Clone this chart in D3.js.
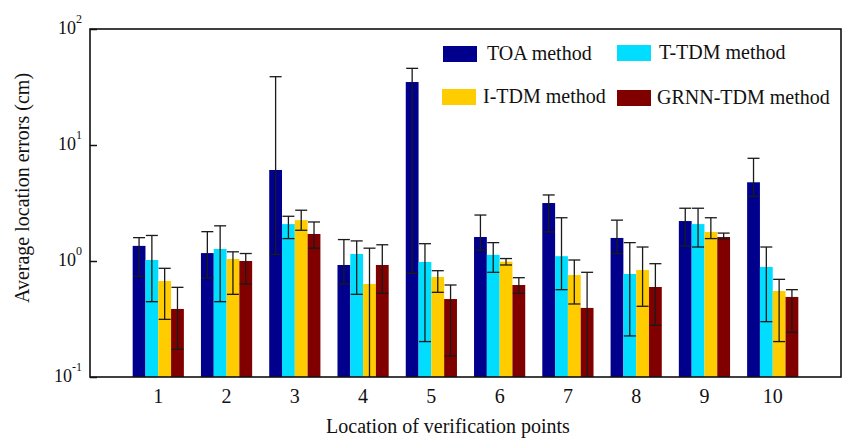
<!DOCTYPE html>
<html>
<head>
<meta charset="utf-8">
<script src="https://cdn.jsdelivr.net/npm/d3@7"></script>
<style>
  html, body { margin: 0; padding: 0; background: #fff; }
  svg { display: block; font-family: "Liberation Serif", "Times New Roman", serif; }
</style>
</head>
<body>
<svg id="chart" width="851" height="440"></svg>
<script>
// Verification point labels
const categories = ["1", "2", "3", "4", "5", "6", "7", "8", "9", "10"];
const seriesNames = ["TOA method", "T-TDM method", "I-TDM method", "GRNN-TDM method"];
const seriesColors = ["#00008c", "#00ddff", "#ffcc00", "#800000"];

// Mean location error (cm) and the lower / upper ends of each error bar
const toaMean  = [1.35, 1.17, 6.09, 0.924, 34.9, 1.61, 3.16, 1.58, 2.21, 4.77];
const toaLow   = [0.738, 0.714, 1.14, 0.634, 0.783, 1.24, 1.78, 1.16, 1.35, 3.61];
const toaHigh  = [1.59, 1.79, 38.8, 1.53, 45.8, 2.49, 3.71, 2.25, 2.85, 7.68];

const ttdmMean = [1.02, 1.27, 2.08, 1.15, 0.98, 1.13, 1.10, 0.773, 2.08, 0.888];
const ttdmLow  = [0.446, 0.446, 1.56, 0.516, 0.202, 0.799, 0.566, 0.226, 1.32, 0.300];
const ttdmHigh = [1.66, 2.01, 2.43, 1.49, 1.41, 1.44, 2.36, 1.44, 2.85, 1.32];

const itdmMean = [0.672, 1.04, 2.25, 0.634, 0.728, 0.987, 0.757, 0.836, 1.78, 0.551];
const itdmLow  = [0.314, 0.516, 1.84, 0.09, 0.537, 0.924, 0.426, 0.407, 1.56, 0.202];
const itdmHigh = [0.865, 1.20, 2.74, 1.29, 0.825, 1.05, 1.02, 1.32, 2.36, 0.695];

const grnnMean = [0.386, 1.00, 1.71, 0.924, 0.470, 0.621, 0.394, 0.597, 1.61, 0.490];
const grnnLow  = [0.173, 0.634, 1.29, 0.527, 0.152, 0.527, 0.09, 0.279, 1.55, 0.243];
const grnnHigh = [0.593, 1.16, 2.17, 1.38, 0.621, 0.718, 0.799, 0.948, 1.74, 0.566];

const yTickValues = [0.1, 1, 10, 100];
const yTickExponents = ["-1", "0", "1", "2"];

const series = [
  { mean: toaMean,  low: toaLow,  high: toaHigh },
  { mean: ttdmMean, low: ttdmLow, high: ttdmHigh },
  { mean: itdmMean, low: itdmLow, high: itdmHigh },
  { mean: grnnMean, low: grnnLow, high: grnnHigh }
];

const svg = d3.select("#chart");
const plotLeft = 90, plotRight = 841, plotTop = 29, plotBottom = 377;

const x = d3.scaleLinear().domain([0, categories.length + 1]).range([plotLeft, plotRight]);
const y = d3.scaleLog().domain([0.1, 100]).range([plotBottom, plotTop]);
const barW = 0.1875; // in category units

svg.append("defs").append("clipPath").attr("id", "plotClip")
  .append("rect").attr("x", plotLeft).attr("y", plotTop)
  .attr("width", plotRight - plotLeft).attr("height", plotBottom - plotTop);

const plot = svg.append("g").attr("clip-path", "url(#plotClip)");

series.forEach((s, si) => {
  const offset = (si - 1.5) * barW;
  const g = plot.append("g");
  g.selectAll("rect")
    .data(categories.map((c, i) => ({ i, v: s.mean[i] })))
    .join("rect")
    .attr("x", d => x(d.i + 1 + offset - barW / 2))
    .attr("width", d => x(d.i + 1 + offset + barW / 2) - x(d.i + 1 + offset - barW / 2))
    .attr("y", d => y(d.v))
    .attr("height", d => y(0.1) - y(d.v))
    .attr("fill", seriesColors[si]);
});

// Error bars drawn over all bars
series.forEach((s, si) => {
  const offset = (si - 1.5) * barW;
  const eb = plot.append("g").attr("stroke", "#1a1a1a").attr("stroke-width", 1.3);
  categories.forEach((c, i) => {
    const cx = x(i + 1 + offset);
    const yl = y(s.low[i]), yh = y(s.high[i]);
    eb.append("line").attr("x1", cx).attr("x2", cx).attr("y1", yh).attr("y2", yl);
    eb.append("line").attr("x1", cx - 6).attr("x2", cx + 6).attr("y1", yh).attr("y2", yh);
    eb.append("line").attr("x1", cx - 6).attr("x2", cx + 6).attr("y1", yl).attr("y2", yl);
  });
});

// Left axis: inward ticks only, labels drawn as powers of ten
const yAxis = d3.axisLeft(y).tickValues(yTickValues).tickSize(-7).tickFormat("");
const ya = svg.append("g").attr("transform", `translate(${plotLeft},0)`).call(yAxis);
ya.select(".domain").remove();
ya.selectAll(".tick line").attr("stroke", "#111").attr("stroke-width", 1.5);

yTickValues.forEach((v, k) => {
  const t = svg.append("text")
    .attr("x", 82).attr("y", y(v) + 5)
    .attr("text-anchor", "end")
    .attr("fill", "#111")
    .style("font-size", "18px");
  t.append("tspan").text("10");
  t.append("tspan").attr("dy", -11).style("font-size", "12px").text(yTickExponents[k]);
});

// Category labels
svg.append("g").selectAll("text")
  .data(categories)
  .join("text")
  .attr("x", (d, i) => x(i + 1))
  .attr("y", 403)
  .attr("text-anchor", "middle")
  .attr("fill", "#111")
  .style("font-size", "20px")
  .text(d => d);

// Frame
svg.append("rect")
  .attr("x", plotLeft).attr("y", plotTop)
  .attr("width", plotRight - plotLeft).attr("height", plotBottom - plotTop)
  .attr("fill", "none").attr("stroke", "#111").attr("stroke-width", 1.6);

// Axis titles
svg.append("text")
  .attr("x", 448).attr("y", 433)
  .attr("text-anchor", "middle").attr("fill", "#111")
  .style("font-size", "20px")
  .text("Location of verification points");

svg.append("text")
  .attr("transform", "translate(29,188) rotate(-90)")
  .attr("text-anchor", "middle").attr("fill", "#111")
  .style("font-size", "20px")
  .text("Average location errors (cm)");

// Legend, two rows of two entries
const legendPos = [
  { sx: 443, sy: 46, tx: 487, ty: 60 },
  { sx: 617, sy: 45, tx: 659, ty: 59 },
  { sx: 442, sy: 89, tx: 483, ty: 103 },
  { sx: 617, sy: 90, tx: 657, ty: 104 }
];
const legend = svg.append("g");
seriesNames.forEach((name, si) => {
  const p = legendPos[si];
  legend.append("rect")
    .attr("x", p.sx).attr("y", p.sy).attr("width", 34).attr("height", 16)
    .attr("fill", seriesColors[si]);
  legend.append("text")
    .attr("x", p.tx).attr("y", p.ty)
    .attr("fill", "#111")
    .style("font-size", "20px")
    .text(name);
});
</script>
</body>
</html>
